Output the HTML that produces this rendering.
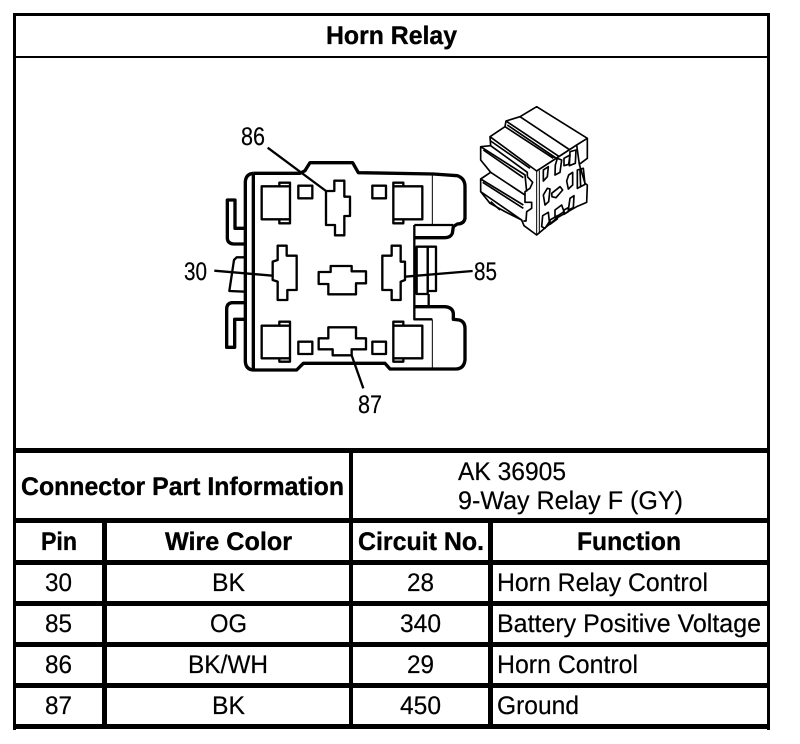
<!DOCTYPE html>
<html>
<head>
<meta charset="utf-8">
<title>Horn Relay</title>
<style>
html,body{margin:0;padding:0;background:#fff;width:800px;height:744px;overflow:hidden}
svg{display:block}
text{font-family:"Liberation Sans",Arial,sans-serif;font-size:25.5px;fill:#000;stroke:#000;stroke-width:0.2;text-rendering:geometricPrecision}
.b{font-weight:bold;stroke-width:0.35}
</style>
</head>
<body>
<svg width="800" height="744" viewBox="0 0 800 744" xmlns="http://www.w3.org/2000/svg">
<rect width="800" height="744" fill="#fff"/>
<!-- table frame -->
<g fill="#000">
<rect x="13" y="13" width="757" height="3"/>
<rect x="13" y="13" width="3" height="717"/>
<rect x="767" y="13" width="3" height="717"/>
<rect x="13" y="56" width="757" height="2"/>
<rect x="13" y="448" width="757" height="5"/>
<rect x="13" y="518" width="757" height="5"/>
<rect x="13" y="560" width="757" height="5"/>
<rect x="13" y="601" width="757" height="5"/>
<rect x="13" y="642" width="757" height="5"/>
<rect x="13" y="683" width="757" height="5"/>
<rect x="13" y="724" width="757" height="5"/>
<rect x="349" y="448" width="4" height="281"/>
<rect x="102" y="518" width="5" height="211"/>
<rect x="488" y="518" width="5" height="211"/>
</g>
<!-- table text -->
<text class="b" x="326" y="44" textLength="131" lengthAdjust="spacingAndGlyphs">Horn Relay</text>
<text class="b" x="21" y="495" textLength="323" lengthAdjust="spacingAndGlyphs">Connector Part Information</text>
<text x="458" y="480" textLength="108" lengthAdjust="spacingAndGlyphs">AK 36905</text>
<text x="458" y="509" textLength="225" lengthAdjust="spacingAndGlyphs">9-Way Relay F (GY)</text>
<text class="b" x="41" y="550" textLength="36" lengthAdjust="spacingAndGlyphs">Pin</text>
<text class="b" x="165" y="550" textLength="127" lengthAdjust="spacingAndGlyphs">Wire Color</text>
<text class="b" x="358" y="550" textLength="126" lengthAdjust="spacingAndGlyphs">Circuit No.</text>
<text class="b" x="577" y="550" textLength="104" lengthAdjust="spacingAndGlyphs">Function</text>
<text x="45" y="591" textLength="27" lengthAdjust="spacingAndGlyphs">30</text>
<text x="212" y="591" textLength="33" lengthAdjust="spacingAndGlyphs">BK</text>
<text x="407" y="591" textLength="27" lengthAdjust="spacingAndGlyphs">28</text>
<text x="497" y="591" textLength="211" lengthAdjust="spacingAndGlyphs">Horn Relay Control</text>
<text x="45" y="632" textLength="27" lengthAdjust="spacingAndGlyphs">85</text>
<text x="210" y="632" textLength="37" lengthAdjust="spacingAndGlyphs">OG</text>
<text x="400" y="632" textLength="41" lengthAdjust="spacingAndGlyphs">340</text>
<text x="497" y="632" textLength="264" lengthAdjust="spacingAndGlyphs">Battery Positive Voltage</text>
<text x="45" y="673" textLength="27" lengthAdjust="spacingAndGlyphs">86</text>
<text x="188" y="673" textLength="80" lengthAdjust="spacingAndGlyphs">BK/WH</text>
<text x="407" y="673" textLength="27" lengthAdjust="spacingAndGlyphs">29</text>
<text x="497" y="673" textLength="141" lengthAdjust="spacingAndGlyphs">Horn Control</text>
<text x="45" y="714" textLength="27" lengthAdjust="spacingAndGlyphs">87</text>
<text x="212" y="714" textLength="33" lengthAdjust="spacingAndGlyphs">BK</text>
<text x="400" y="714" textLength="41" lengthAdjust="spacingAndGlyphs">450</text>
<text x="497" y="714" textLength="82" lengthAdjust="spacingAndGlyphs">Ground</text>
<!-- diagram labels -->
<text x="241" y="145" textLength="24" lengthAdjust="spacingAndGlyphs">86</text>
<text x="184" y="280" textLength="23" lengthAdjust="spacingAndGlyphs">30</text>
<text x="474" y="280" textLength="23" lengthAdjust="spacingAndGlyphs">85</text>
<text x="358" y="413" textLength="24" lengthAdjust="spacingAndGlyphs">87</text>
<!-- connector face, drawn in 3x coordinates -->
<g transform="translate(170,110) scale(0.33333)" fill="none" stroke="#000" stroke-linejoin="round">
  <path stroke-width="10" d="M250,190 L390,190 L405,182 L420,158 L548,158 L565,188 L790,192 L862,197 Q885,205 885,230 L885,325 Q882,342 862,342 L850,350 L847,370 Q842,383 825,383 L735,383"/>
  <path stroke-width="10" d="M735,590 L825,590 Q848,592 850,610 L850,628 L868,630 Q885,635 885,655 L885,750 Q882,776 858,777 L660,777 L645,760 L400,760 L380,780 L250,780 Q225,778 226,750 L226,215 Q228,192 250,190"/>
  <path stroke-width="10" d="M250,190 L250,780"/>
  <path stroke-width="7" d="M733,345 L733,628 L787,628 M733,345 L850,345"/>
  <path stroke-width="3" d="M787,192 L787,345 M787,628 L787,777"/>
  <path stroke-width="10" d="M226,355 L195,355 L195,270 L172,270 L172,385 Q173,400 190,402 L226,402"/>
  <path stroke-width="7" d="M226,442 L200,442 L192,450 L178,543 L226,545"/>
  <path stroke-width="10" d="M226,578 L185,578 Q170,580 170,598 L170,712 L194,712 L194,628 L226,628"/>
  <g stroke-width="7">
    <rect x="740" y="410" width="33" height="142"/>
    <rect x="773" y="410" width="25" height="133"/>
    <path d="M776,552 L776,590"/>
    <rect x="385" y="227" width="42" height="38"/>
    <rect x="607" y="227" width="41" height="38"/>
    <rect x="385" y="695" width="42" height="37"/>
    <rect x="607" y="695" width="41" height="37"/>
    <path d="M360,229 L275,229 L275,328 L360,328 Z M328,229 L328,218 L360,218 L360,229 M328,328 L328,340 L360,340 L360,328"/>
    <path d="M670,229 L757,229 L757,328 L670,328 Z M670,229 L670,218 L700,218 L700,229 M670,328 L670,340 L700,340 L700,328"/>
    <path d="M360,647 L275,647 L275,745 L360,745 Z M328,647 L328,635 L360,635 L360,647 M328,745 L328,755 L360,755 L360,745"/>
    <path d="M670,647 L757,647 L757,745 L670,745 Z M670,647 L670,635 L700,635 L700,647 M670,745 L670,755 L700,755 L700,745"/>
    <path d="M493,212 L523,212 L523,260 L540,260 L540,318 L523,318 L523,376 L495,376 L495,345 L468,345 L468,243 L493,243 Z"/>
    <path d="M323,407 L350,407 L350,437 L380,437 L380,540 L352,540 L352,570 L323,570 L323,515 L308,510 L308,455 L323,450 Z"/>
    <path d="M665,407 L692,407 L692,455 L705,455 L705,510 L692,515 L692,570 L665,570 L665,540 L637,540 L637,437 L665,437 Z"/>
    <path d="M482,468 L545,468 L545,484 L588,484 L588,520 L558,520 L558,553 L475,553 L475,522 L446,522 L446,486 L482,486 Z"/>
    <path d="M475,652 L558,652 L558,685 L588,685 L588,718 L545,718 L545,736 L488,736 L488,718 L446,718 L446,685 L475,685 Z"/>
    <path d="M293,113 L468,243 M133,482 L308,497 M908,483 L705,500 M580,835 L545,736"/>
  </g>
</g>
<!-- isometric relay icon, drawn in 3x coordinates from (470,95) -->
<g transform="translate(470,95) scale(0.33333)" fill="none" stroke="#000" stroke-width="5" stroke-linejoin="round">
  <path d="M200,35 L352,130 L352,190 L328,208 L345,265 L352,270 L350,322 L320,335 L262,368 L200,420 L162,392 L155,375 L105,350 L60,325 L32,290 L32,252 L62,232 L32,195 L32,155 L62,152 L60,125 L105,95 L108,78 L150,65 Z"/>
  <path d="M200,228 L200,420 M208,226 L208,416" stroke-width="3"/>
  <path d="M200,228 L320,150 M320,150 L352,130 M320,150 L328,208"/>
  <path d="M150,65 L300,165 M108,78 L268,185 M112,90 L262,192 M105,95 L250,190 M60,125 L200,228"/>
  <path d="M62,138 L180,220 M62,152 L172,232 L172,245 M32,155 L165,240 L170,290"/>
  <path d="M40,165 L160,248 M62,232 L165,300 M32,252 L160,330 M38,262 L160,340 M32,290 L155,375"/>
  <path d="M172,245 L188,262 L180,280 L165,290 L165,322 L185,322 L185,340 L170,350 L168,378 L160,378"/>
  <path d="M62,320 L90,345"/>
  <g stroke-width="5">
    <path d="M220,225 L235,215 L232,245 L220,258 Z"/>
    <path d="M262,190 L275,195 L270,232 L255,240 L256,210 Z"/>
    <path d="M282,190 L300,180 L296,208 L282,212 Z"/>
    <path d="M300,170 L318,165 L316,205 L298,212 Z"/>
    <path d="M296,240 L308,232 L308,270 L295,282 L290,258 Z"/>
    <path d="M232,280 L240,282 L236,320 L225,330 L220,300 Z"/>
    <path d="M245,295 L270,275 L278,285 L258,308 L246,305 Z"/>
    <path d="M300,310 L312,302 L310,338 L295,345 Z"/>
    <path d="M255,345 L275,330 L282,350 L255,368 Z"/>
    <path d="M282,345 L295,338 L295,350 L282,358 Z"/>
    <path d="M218,362 L235,352 L238,380 L225,400 L215,395 Z"/>
    <path d="M240,375 L262,362 L262,372 L240,388 Z"/>
    <path d="M322,225 L340,220 L345,268 L322,280 Z"/>
    <path d="M330,225 L332,275"/>
  </g>
</g>
</svg>
</body>
</html>
